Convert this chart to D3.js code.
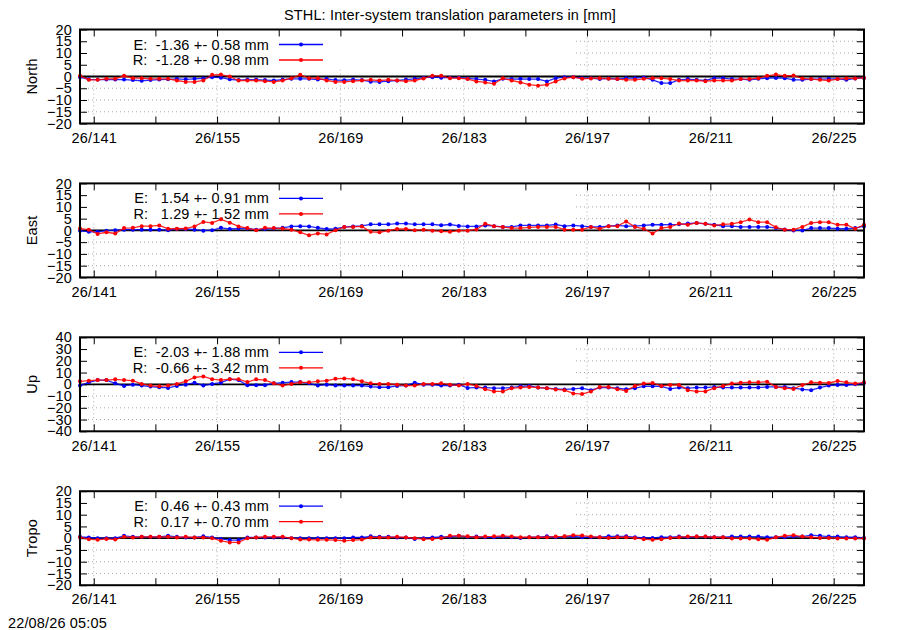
<!DOCTYPE html>
<html>
<head>
<meta charset="utf-8">
<script src="https://cdn.jsdelivr.net/npm/d3@7/dist/d3.min.js"></script>
<style>
  body { margin: 0; background: #fff; }
  svg { display: block; font-family: 'Liberation Sans', Arial, sans-serif; font-size: 14.5px; letter-spacing: 0.15px; }
  .grid line { stroke: #a8a8a8; stroke-dasharray: 1,3; }
  .axis .tick line { stroke: #000; }
  .axis text { fill: #000; font-size: 14.5px; }
  .legend text { white-space: pre; }
</style>
</head>
<body>
<div id="chart"></div>
<script>
// day of year 2026, one solution per day (epoch ~10:30 UTC)
const days = d3.range(139, 229);
const epochOffset = 0.44;

const northE = [-0.3, -1.2, -1.3, -1.3, -1.3, -1.3, -1.5, -1.8, -1.5, -1.3, -1.2, -1.0, -1.2, -1.0, -0.8,
  -0.3, -0.5, -1.2, -1.5, -1.3, -1.3, -1.5, -1.7, -1.3, -1.0, -1.0, -1.0, -1.3, -1.0, -1.5,
  -1.6, -1.3, -1.5, -2.2, -2.3, -2.0, -1.7, -1.3, -1.0, -0.5, -0.3, -0.5, -0.5, -0.5, -0.8,
  -1.1, -1.4, -2.1, -1.0, -1.1, -1.0, -1.1, -1.1, -2.1, -0.7, -0.3, -0.3, -0.7, -0.7, -1.1,
  -0.8, -1.1, -0.7, -0.7, -0.4, -1.4, -2.8, -2.8, -1.4, -1.1, -1.4, -1.7, -0.7, -0.7, -1.1,
  -1.1, -1.4, -1.0, -0.7, -0.6, -0.7, -1.4, -1.4, -1.1, -1.1, -1.0, -1.0, -1.4, -0.8, -0.6];
const northR = [0.3, -1.4, -1.4, -1.0, -1.0, 0.3, -0.7, -0.7, -1.0, -1.0, -1.0, -1.7, -2.3, -2.3, -1.7,
  0.7, 0.8, 0.0, -1.7, -1.7, -1.7, -2.0, -2.3, -1.7, -0.7, 0.7, -0.7, -0.7, -1.7, -2.3,
  -2.3, -2.0, -1.7, -1.4, -1.7, -1.4, -1.7, -2.0, -1.7, -0.8, 0.3, 0.3, -0.7, -0.7, -1.1,
  -2.1, -2.5, -3.1, -0.7, -1.7, -2.5, -3.5, -3.9, -3.5, -2.1, -0.8, -0.3, -1.0, -0.8, -0.7,
  -1.0, -1.1, -1.4, -1.4, -1.0, -0.7, -0.7, -1.1, -1.7, -1.7, -1.7, -2.0, -1.7, -1.7, -1.7,
  -1.1, -1.1, -0.7, 0.3, 0.8, 0.3, 0.4, -0.8, -1.1, -1.4, -1.7, -1.1, -0.8, -0.8, -0.6];

const eastE = [-0.1, -0.6, -0.6, -0.1, 0.1, 0.3, 0.3, 0.3, 0.3, 0.3, 0.1, 0.6, 0.6, 0.3, -0.1,
  0.1, 1.1, 0.6, 0.8, 0.8, 0.3, 0.6, 0.8, 1.1, 1.7, 1.8, 1.7, 1.1, 0.6, 0.7,
  1.4, 1.7, 1.9, 2.6, 2.6, 2.6, 2.9, 2.9, 2.6, 2.6, 2.6, 2.2, 2.5, 1.9, 1.7,
  1.7, 2.1, 1.8, 1.5, 1.5, 2.1, 2.1, 2.1, 2.1, 2.5, 1.8, 2.1, 1.8, 1.5, 1.5,
  1.8, 2.1, 1.8, 1.8, 2.1, 2.4, 2.4, 2.5, 2.6, 2.9, 3.2, 2.8, 2.4, 1.8, 1.8,
  1.5, 1.5, 1.5, 1.5, 1.0, 0.4, 0.0, 0.0, 1.0, 1.0, 1.0, 0.7, 0.7, 1.0, 1.8];
const eastR = [0.8, 0.3, -1.5, -0.8, -1.3, 1.0, 1.1, 1.8, 1.8, 2.1, 0.7, 0.7, 0.8, 1.7, 3.6,
  3.2, 4.7, 3.3, 1.7, 1.0, 0.1, 1.1, 1.0, 0.8, 0.3, -0.8, -2.1, -1.3, -1.7, 0.1,
  1.4, 1.5, 1.7, -0.6, -0.8, -0.1, 0.6, 0.6, 0.1, 0.3, -0.1, -0.4, -0.6, -0.1, -0.1,
  0.4, 2.8, 1.8, 1.4, 1.0, 1.0, 1.3, 1.5, 1.5, 1.5, 0.3, 0.3, 0.3, 1.5, 0.7,
  1.8, 1.8, 3.8, 1.5, 0.7, -1.3, 1.0, 1.5, 2.9, 2.4, 3.2, 2.8, 2.1, 2.6, 2.8,
  3.5, 4.6, 3.5, 3.5, 1.3, 0.3, 0.3, 1.5, 3.2, 3.5, 3.5, 2.4, 2.4, 0.7, 2.4];

const upE = [-1.1, 1.7, 3.6, 3.6, 0.8, -1.4, -0.3, -1.1, -1.9, -2.5, -3.1, -1.4, -0.3, 1.4, -1.1,
  0.3, 1.4, 4.4, 3.6, -0.8, -0.8, -0.8, 0.8, 1.4, 1.9, 1.9, 0.8, -1.1, -0.3, -1.1,
  -1.1, -1.1, -1.1, -1.9, -2.5, -2.5, -1.4, -1.1, 1.4, -0.3, -0.3, -1.1, -1.1, -0.3, -3.1,
  -2.8, -2.8, -3.3, -3.3, -2.8, -1.7, -1.4, -2.8, -3.3, -3.9, -4.4, -3.9, -3.3, -5.0, -2.8,
  -2.8, -3.3, -4.2, -3.3, -1.7, -1.7, -1.7, -3.9, -2.8, -3.3, -2.8, -2.8, -2.2, -2.8, -2.8,
  -2.8, -2.8, -2.8, -2.2, -2.2, -2.2, -3.3, -4.4, -5.0, -2.8, -1.1, -0.6, -0.6, 0.0, 1.1];
const upR = [2.5, 3.1, 3.6, 3.6, 4.2, 3.6, 3.1, 0.3, -1.1, -1.7, -1.1, 0.3, 2.5, 5.8, 6.7,
  4.4, 3.6, 4.4, 4.4, 1.9, 4.2, 3.6, 0.8, -1.1, 0.3, 1.7, 1.7, 2.5, 3.1, 4.7,
  5.0, 4.4, 2.5, 0.8, 0.3, 0.3, -0.3, -1.1, -1.1, 0.3, 0.3, 0.8, -0.3, -1.1, 0.3,
  -1.4, -4.2, -6.1, -6.1, -3.3, -2.8, -2.2, -2.8, -3.3, -4.4, -5.0, -7.8, -8.3, -6.1, -2.2,
  -2.2, -4.2, -5.6, -1.4, 0.6, 1.1, -1.4, -0.6, -0.6, -5.0, -6.1, -6.1, -3.3, -1.4, 0.6,
  1.4, 1.7, 1.7, 2.2, -2.2, -3.3, -3.9, -0.6, 1.7, 1.4, 1.1, 2.8, 1.7, 0.6, 1.7];

const tropoE = [0.6, 0.3, 0.0, 0.0, 0.0, 1.0, 0.6, 0.6, 0.6, 0.6, 1.0, 0.6, 0.3, 0.3, 0.8,
  0.3, -0.3, -0.8, -0.8, 0.3, 0.3, 0.3, 0.3, 0.3, 0.0, 0.0, 0.0, 0.0, 0.0, 0.0,
  0.0, 0.3, 0.3, 0.8, 0.6, 0.6, 0.3, 0.3, -0.3, 0.0, 0.3, 0.6, 0.6, 1.0, 0.6,
  0.7, 0.4, 0.4, 0.7, 0.4, 0.1, 0.4, 0.4, 0.8, 0.4, 0.7, 0.8, 0.4, 0.4, 0.4,
  0.8, 0.8, 0.8, 0.4, 0.1, 0.1, 0.4, 0.4, 0.7, 0.4, 0.7, 0.7, 0.4, 0.4, 0.7,
  0.7, 0.7, 0.7, 0.4, 0.4, 0.4, 0.7, 0.7, 1.3, 1.0, 0.7, 0.7, 0.4, 0.4, 0.1];
const tropoR = [0.3, -0.4, -0.7, -0.3, -0.6, 0.6, 0.3, 0.6, 0.6, 0.6, 0.6, 0.3, 0.6, 0.3, 0.3,
  0.0, -1.1, -1.8, -1.8, 0.0, 0.3, 0.6, 0.6, 0.6, 0.0, -0.6, -0.6, -0.7, -0.7, -0.8,
  -1.1, -0.8, -0.6, 0.3, 0.3, 0.3, 0.6, 0.3, 0.0, -0.4, -0.3, 0.0, 1.0, 1.0, 0.8,
  0.4, 0.7, 0.8, 1.0, 0.7, 0.4, 0.4, 0.4, 0.4, 0.7, 0.8, 1.3, 1.1, 0.7, 0.4,
  0.1, 0.4, 0.4, 0.1, -0.4, -0.7, -0.4, 0.1, 0.4, 0.7, 0.7, 0.7, 0.4, 0.4, -0.1,
  -0.1, -0.1, -0.4, -0.7, 0.4, 1.0, 1.3, 0.7, 0.4, 0.1, 0.1, -0.1, -0.1, -0.1, -0.1];

const componentNames = ['North', 'East', 'Up', 'Tropo'];
const yLimits = [20, 20, 40, 20];
const yTickSteps = [5, 5, 10, 5];
const seriesE = [northE, eastE, upE, tropoE];
const seriesR = [northR, eastR, upR, tropoR];
const meanE = ['-1.36', '1.54', '-2.03', '0.46'];
const sigmaE = ['0.58', '0.91', '1.88', '0.43'];
const meanR = ['-1.28', '1.29', '-0.66', '0.17'];
const sigmaR = ['0.98', '1.52', '3.42', '0.70'];

const majorDays = [141, 155, 169, 183, 197, 211, 225];
const minorDays = [148, 162, 176, 190, 204, 218];

const titleText = 'STHL: Inter-system translation parameters in [mm]';
const timestamp = '22/08/26 05:05';

const width = 900;
const height = 630;
const marginLeft = 80;
const marginRight = 36;
const firstTop = 29.5;
const panelStep = 153.9;
const panelHeight = 94;
const tickLen = 7;
const colors = { E: '#0000ff', R: '#ff0000' };

const svg = d3
  .select('#chart')
  .append('svg')
  .attr('width', width)
  .attr('height', height);

svg.append('rect').attr('width', width).attr('height', height).attr('fill', '#fff');

const xScale = d3
  .scaleLinear()
  .domain(d3.extent(days, (d) => d + epochOffset))
  .range([marginLeft, width - marginRight]);

svg
  .append('text')
  .attr('x', width / 2)
  .attr('y', 19.5)
  .attr('text-anchor', 'middle')
  .text(titleText);

svg.append('text').attr('x', 8).attr('y', 628).text(timestamp);

componentNames.forEach((name, p) => {
  const top = firstTop + p * panelStep;
  const bottom = top + panelHeight;
  const lim = yLimits[p];
  const yTicks = d3.range(-lim, lim + 1, yTickSteps[p]);

  const yScale = d3.scaleLinear().domain([-lim, lim]).range([bottom, top]);

  const g = svg.append('g').attr('class', 'panel');

  // grid
  const grid = g.append('g').attr('class', 'grid');
  grid
    .selectAll('.gy')
    .data(yTicks.filter((v) => Math.abs(v) !== lim && v !== 0))
    .join('line')
    .attr('x1', marginLeft)
    .attr('x2', width - marginRight)
    .attr('y1', (d) => yScale(d))
    .attr('y2', (d) => yScale(d));
  grid
    .selectAll('.gx')
    .data(majorDays)
    .join('line')
    .attr('x1', (d) => xScale(d))
    .attr('x2', (d) => xScale(d))
    .attr('y1', top)
    .attr('y2', bottom);

  // opaque key box
  g.append('rect')
    .attr('x', marginLeft)
    .attr('y', top)
    .attr('width', 493)
    .attr('height', 40)
    .attr('fill', '#fff');

  // y axes
  g.append('g')
    .attr('class', 'axis')
    .attr('transform', `translate(${marginLeft},0)`)
    .call(d3.axisLeft(yScale).tickValues(yTicks).tickSize(-tickLen).tickPadding(8))
    .call((a) => a.select('.domain').remove());
  g.append('g')
    .attr('class', 'axis')
    .attr('transform', `translate(${width - marginRight},0)`)
    .call(d3.axisRight(yScale).tickValues(yTicks).tickSize(-tickLen).tickFormat(''))
    .call((a) => a.select('.domain').remove());

  // x axes
  g.append('g')
    .attr('class', 'axis')
    .attr('transform', `translate(0,${bottom})`)
    .call(
      d3
        .axisBottom(xScale)
        .tickValues(majorDays)
        .tickSize(-tickLen)
        .tickPadding(9)
        .tickFormat((d) => `26/${d}`)
    )
    .call((a) => a.select('.domain').remove());
  [
    [bottom, d3.axisBottom, minorDays],
    [top, d3.axisTop, majorDays.concat(minorDays)],
  ].forEach(([yPos, axisFn, vals]) => {
    g.append('g')
      .attr('class', 'axis')
      .attr('transform', `translate(0,${yPos})`)
      .call(axisFn(xScale).tickValues(vals).tickSize(-tickLen).tickFormat(''))
      .call((a) => a.select('.domain').remove());
  });

  // zero axis
  g.append('line')
    .attr('x1', marginLeft)
    .attr('x2', width - marginRight)
    .attr('y1', yScale(0))
    .attr('y2', yScale(0))
    .attr('stroke', '#000')
    .attr('stroke-width', 1.8);

  // y label
  g.append('text')
    .attr('transform', `translate(32,${(top + bottom) / 2}) rotate(-90)`)
    .attr('text-anchor', 'middle')
    .attr('dy', '0.35em')
    .text(name);

  // series
  const line = d3
    .line()
    .x((d, i) => xScale(days[i] + epochOffset))
    .y((d) => yScale(d));

  const legend = g.append('g').attr('class', 'legend');
  [
    ['E', seriesE[p], meanE[p], sigmaE[p]],
    ['R', seriesR[p], meanR[p], sigmaR[p]],
  ].forEach(([key, values, mean, sigma], k) => {
    const color = colors[key];
    g.append('path')
      .attr('d', line(values))
      .attr('fill', 'none')
      .attr('stroke', color)
      .attr('stroke-width', 1.3)
      .attr('stroke-opacity', 0.85);
    g.append('g')
      .selectAll('circle')
      .data(values)
      .join('circle')
      .attr('cx', (d, i) => xScale(days[i] + epochOffset))
      .attr('cy', (d) => yScale(d))
      .attr('r', 2)
      .attr('fill', color);

    const ly = top + 15 + k * 15.5;
    legend
      .append('text')
      .attr('x', 269)
      .attr('y', ly)
      .attr('dy', '0.35em')
      .attr('text-anchor', 'end')
      .text(`${key}: ${mean.padStart(6)} +- ${sigma} mm`);
    legend
      .append('line')
      .attr('x1', 279)
      .attr('x2', 323)
      .attr('y1', ly)
      .attr('y2', ly)
      .attr('stroke', color)
      .attr('stroke-width', 1.3);
    legend
      .append('circle')
      .attr('cx', 301)
      .attr('cy', ly)
      .attr('r', 2)
      .attr('fill', color);
  });

  // border
  g.append('rect')
    .attr('x', marginLeft)
    .attr('y', top)
    .attr('width', width - marginRight - marginLeft)
    .attr('height', panelHeight)
    .attr('fill', 'none')
    .attr('stroke', '#000')
    .attr('stroke-width', 2);
});
</script>
</body>
</html>
